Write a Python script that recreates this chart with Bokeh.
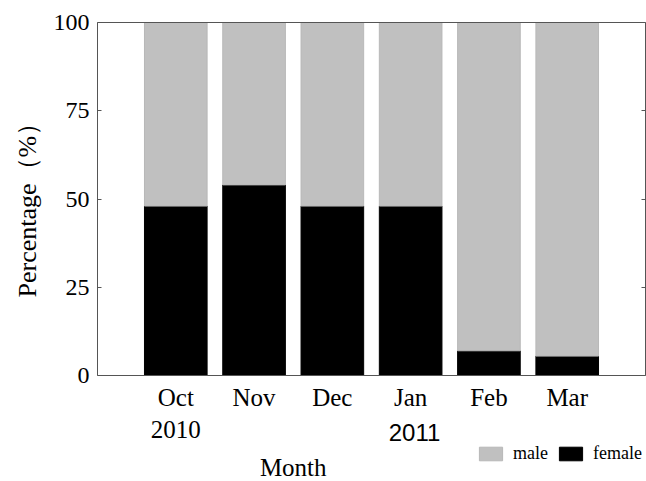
import math
from bokeh.plotting import figure
from bokeh.models import (Range1d, FixedTicker, LinearAxis, Legend, LegendItem,
                          ColumnDataSource)
from bokeh.core.properties import value
from bokeh.embed import file_html
from bokeh.resources import INLINE

# ---- data ----
months = ["Oct", "Nov", "Dec", "Jan", "Feb", "Mar"]
first_year = "2010"
second_year = "2011"
female = [48, 54, 48, 48, 7, 5.5]
male = [52, 46, 52, 52, 93, 94.5]
y_ticks = [0, 25, 50, 75, 100]
y_title = "Percentage（%）"
x_title = "Month"

xpos = list(range(1, len(months) + 1))
source = ColumnDataSource(dict(x=xpos, female=female, male=male))

SERIF = "Liberation Serif"
SANS = "Liberation Sans"
AX = "#555555"

W, H = 646, 481
L, R, T, B = 97, 645, 22, 375          # plotting box in pixels
nx = len(months) + 1
ux = (R - L) / nx                      # pixels per x unit
uy = (B - T) / 100.0                   # pixels per y unit

p = figure(width=W, height=H, output_backend="svg", toolbar_location=None,
           x_range=Range1d(-L / ux, (W - L) / ux),
           y_range=Range1d(-(H - B) / uy, 100 + T / uy),
           min_border_left=0, min_border_right=0, min_border_top=0,
           min_border_bottom=0)
p.yaxis.visible = False
p.grid.visible = False
p.outline_line_color = None
p.background_fill_color = "white"
p.border_fill_color = "white"

rs = p.vbar_stack(["female", "male"], x="x", width=0.8, source=source,
                  fill_color=["black", "#c0c0c0"],
                  line_color=["black", "#b8b8b8"], line_width=1)
r_female, r_male = rs

# bottom axis, pinned at y = 0
xax = p.xaxis[0]
xax.fixed_location = 0
xax.bounds = (0, nx)
xax.ticker = FixedTicker(ticks=xpos)
labels = {x: m for x, m in zip(xpos, months)}
labels[xpos[0]] = months[0] + "\n" + first_year
xax.major_label_overrides = labels
xax.major_label_text_font = SERIF
xax.major_label_text_font_size = "25px"
xax.major_label_text_color = "black"
xax.major_label_standoff = 8
xax.major_tick_in = 0
xax.major_tick_out = 0
xax.minor_tick_line_color = None
xax.axis_line_color = AX

# left axis pinned at x = 0
yax = LinearAxis(ticker=FixedTicker(ticks=y_ticks), bounds=(0, 100),
                 fixed_location=0)
yax.major_label_text_font = SERIF
yax.major_label_text_font_size = "24px"
yax.major_label_text_color = "black"
yax.major_label_standoff = 8
yax.major_tick_in = 4
yax.major_tick_out = 0
yax.major_tick_line_color = AX
yax.minor_tick_line_color = None
yax.axis_line_color = AX
p.add_layout(yax, "left")

# right axis (ticks only, no labels)
rax = LinearAxis(ticker=FixedTicker(ticks=y_ticks), bounds=(0, 100),
                 fixed_location=nx)
rax.major_label_text_font_size = "0px"
rax.major_label_text_color = None
rax.major_label_standoff = 0
rax.major_tick_in = 4
rax.major_tick_out = 0
rax.major_tick_line_color = AX
rax.minor_tick_line_color = None
rax.axis_line_color = AX
p.add_layout(rax, "right")

# top edge
tax = LinearAxis(ticker=FixedTicker(ticks=[]), bounds=(0, nx),
                 fixed_location=100)
tax.major_label_text_font_size = "0px"
tax.major_label_text_color = None
tax.major_label_standoff = 0
tax.major_tick_in = 0
tax.major_tick_out = 0
tax.minor_tick_line_color = None
tax.axis_line_color = AX
p.add_layout(tax, "above")

# titles and the 2011 year label
p.text(x=[-0.894], y=[48.7], text=[y_title], text_font=value(SERIF),
       text_font_size="26px", text_align="center", text_baseline="middle",
       angle=math.pi / 2, text_color="black")
p.text(x=[4.05], y=[-16.1], text=[second_year], text_font=value(SANS),
       text_font_size="24px", text_align="center", text_baseline="middle",
       text_color="black")
p.text(x=[2.5], y=[-26.1], text=[x_title], text_font=value(SERIF),
       text_font_size="25px", text_align="center", text_baseline="middle",
       text_color="black")

legend = Legend(items=[LegendItem(label="male", renderers=[r_male]),
                       LegendItem(label="female", renderers=[r_female])],
                location=(476, 17), orientation="horizontal",
                glyph_width=29, glyph_height=17, label_standoff=8,
                spacing=8, padding=0, margin=0, label_width=0,
                label_text_font=SERIF, label_text_font_size="18px",
                label_text_color="black",
                border_line_color=None, background_fill_alpha=0)
p.add_layout(legend, "center")

open("out.html", "w").write(file_html(p, INLINE))
